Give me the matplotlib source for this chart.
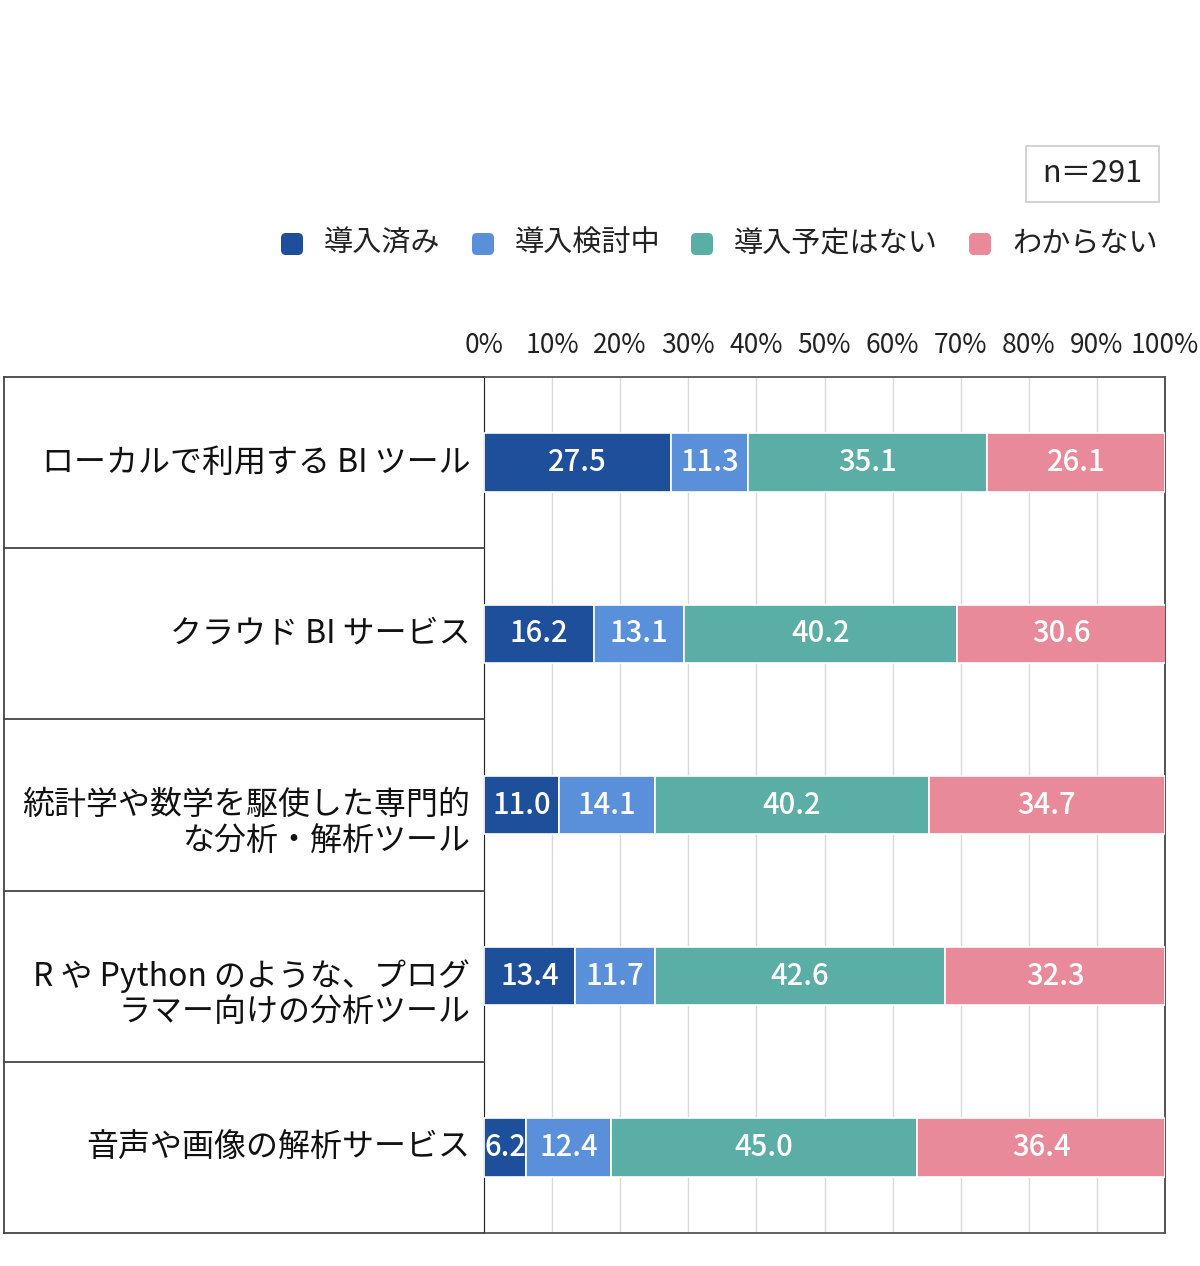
import matplotlib.pyplot as plt
from matplotlib.patches import FancyBboxPatch, Rectangle
from matplotlib.lines import Line2D

plt.rcParams['font.family'] = ['Noto Sans CJK JP', 'DejaVu Sans']

# data
categories = [
    "ローカルで利用する BI ツール",
    "クラウド BI サービス",
    "統計学や数学を駆使した専門的\nな分析・解析ツール",
    "R や Python のような、プログ\nラマー向けの分析ツール",
    "音声や画像の解析サービス",
]
series_names = ["導入済み", "導入検討中", "導入予定はない", "わからない"]
introduced = [27.5, 16.2, 11.0, 13.4, 6.2]
considering = [11.3, 13.1, 14.1, 11.7, 12.4]
no_plan = [35.1, 40.2, 40.2, 42.6, 45.0]
unknown = [26.1, 30.6, 34.7, 32.3, 36.4]
tick_labels = ["0%", "10%", "20%", "30%", "40%", "50%", "60%", "70%", "80%", "90%", "100%"]
sample_note = "n＝291"

colors = ["#1d4f9a", "#5a8fda", "#5aaea5", "#e88a9a"]
series = [introduced, considering, no_plan, unknown]

W, H = 1200, 1266
fig = plt.figure(figsize=(W / 100, H / 100), dpi=100)
fx = lambda px: px / W
fy = lambda py: 1 - py / H

ax = fig.add_axes([fx(484), fy(1233), fx(1165) - fx(484), fy(377) - fy(1233)])

ypos = list(range(len(categories)))
left = [0.0] * len(categories)
for vals, col in zip(series, colors):
    ax.barh(ypos, vals, left=left, height=0.34, color=col, edgecolor="white", linewidth=1.2, zorder=3)
    for y, v, l in zip(ypos, vals, left):
        ax.text(l + v / 2, y, f"{v:.1f}", ha="center", va="center", color="white",
                fontsize=21, fontweight="medium", zorder=4)
    left = [a + b for a, b in zip(left, vals)]

ax.set_xlim(0, 100)
ax.set_ylim(len(categories) - 0.5, -0.5)
ax.set_xticks(range(0, 101, 10))
ax.set_xticklabels(tick_labels, fontsize=19, color="#222222")
ax.xaxis.tick_top()
ax.tick_params(axis="x", length=0, pad=13)
ax.set_yticks([])
ax.grid(axis="x", color="#d9d9d9", linewidth=1, zorder=0)
for s in ["top", "bottom"]:
    ax.spines[s].set_color("#555555")
    ax.spines[s].set_linewidth(1.3)
ax.spines["left"].set_color("#222222")
ax.spines["right"].set_color("#444444")
ax.spines["right"].set_linewidth(1.3)

# left table for category labels
line_kw = dict(color="#444444", linewidth=1.3, transform=fig.transFigure)
fig.add_artist(Line2D([fx(4), fx(484)], [fy(377), fy(377)], **line_kw))
fig.add_artist(Line2D([fx(4), fx(484)], [fy(1233), fy(1233)], **line_kw))
fig.add_artist(Line2D([fx(4), fx(4)], [fy(377), fy(1233)], **line_kw))
row_h = (1233 - 377) / len(categories)
for i in range(1, len(categories)):
    yy = fy(377 + i * row_h)
    fig.add_artist(Line2D([fx(4), fx(484)], [yy, yy], **line_kw))

for y, lab in zip(ypos, categories):
    for j, line in enumerate(lab.split("\n")):
        ax.text(-2.0, y + j * 0.21, line, ha="right", va="center", fontsize=23, color="#111111",
                transform=ax.transData, clip_on=False)

# legend
leg_x = [292, 483, 702, 980]
for px, name, col in zip(leg_x, series_names, colors):
    fig.add_artist(FancyBboxPatch((fx(px - 11), fy(255)), fx(22), fy(233) - fy(255),
                                  boxstyle="round,pad=0,rounding_size=0.004", facecolor=col,
                                  edgecolor="none", transform=fig.transFigure))
    fig.text(fx(px + 32), fy(244), name, ha="left", va="center", fontsize=21, color="#222222")

# n box
fig.add_artist(Rectangle((fx(1026), fy(202)), fx(1159) - fx(1026), fy(146) - fy(202),
                         facecolor="white", edgecolor="#cccccc", linewidth=1.2, transform=fig.transFigure))
fig.text(fx(1092), fy(174), sample_note, ha="center", va="center", fontsize=22, color="#222222")

fig.savefig("out.png", dpi=100)
